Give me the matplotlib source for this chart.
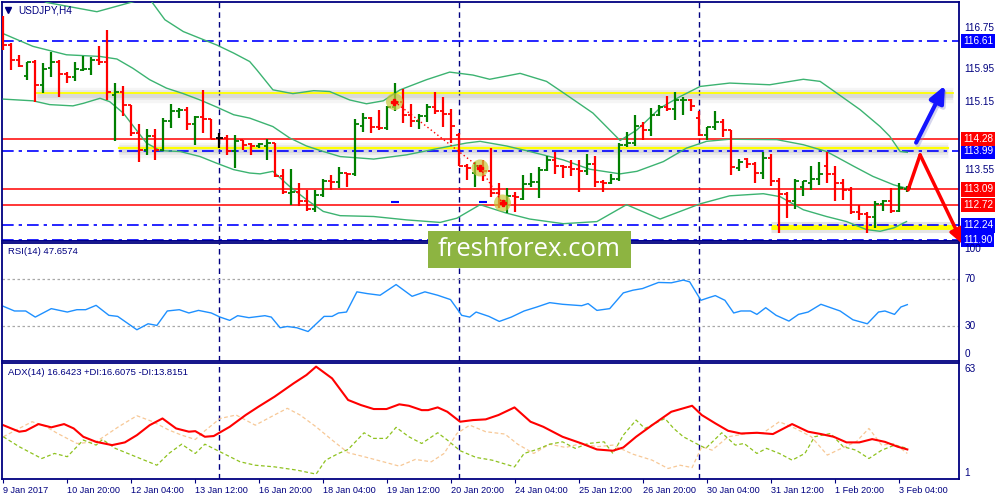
import matplotlib
matplotlib.use("Agg")
import matplotlib.pyplot as plt
import matplotlib.transforms as mtransforms
from matplotlib.patches import Rectangle
import numpy as np

plt.rcParams['font.family'] = ['Liberation Sans', 'DejaVu Sans']

# --- USDJPY H4 bars (bar index 0 = 9 Jan 2017 12:00) ---
opens = [
    116.63, 116.52, 116.16, 115.78, 116.10, 115.57, 115.96, 116.10, 115.83, 115.75,
    115.92, 115.94, 116.16, 116.12, 115.33, 115.41, 115.10, 114.42, 114.03, 114.35,
    114.03, 114.72, 114.96, 114.98, 114.65, 114.80, 114.76, 114.31, 114.31, 113.99,
    114.27, 114.17, 114.12, 114.12, 114.19, 113.41, 113.00, 113.04, 112.81, 112.63,
    112.96, 113.28, 113.26, 113.48, 113.46, 114.60, 114.78, 114.57, 114.54, 115.04,
    115.17, 114.86, 114.72, 114.82, 115.04, 114.94, 114.88, 114.38, 113.65, 113.48,
    113.64, 113.52, 113.01, 112.81, 112.94, 112.86, 113.23, 113.26, 113.56, 113.79,
    113.64, 113.62, 113.57, 113.52, 113.70, 113.26, 113.24, 113.34, 114.15, 114.20,
    114.60, 114.50, 114.86, 115.04, 114.99, 115.20, 115.21, 114.78, 114.38, 114.57,
    114.70, 114.49, 113.60, 113.81, 113.70, 113.48, 113.83, 113.28, 112.99, 112.81,
    113.16, 113.24, 113.34, 113.64, 113.46, 113.24, 113.07, 112.55, 112.52, 112.44,
    112.75, 112.81, 112.57, 113.10]
highs = [
    117.19, 116.55, 116.28, 116.12, 116.16, 116.08, 116.34, 116.16, 115.88, 116.12,
    116.24, 116.22, 116.48, 116.87, 115.62, 115.53, 115.10, 114.65, 114.52, 114.52,
    114.78, 115.12, 115.02, 115.04, 114.83, 115.45, 114.76, 114.42, 114.38, 114.38,
    114.27, 114.20, 114.20, 114.28, 114.19, 113.57, 113.57, 113.24, 113.08, 113.08,
    113.34, 113.44, 113.62, 113.49, 114.76, 114.90, 114.80, 114.98, 115.07, 115.62,
    115.47, 115.12, 114.88, 115.12, 115.39, 115.29, 114.99, 114.42, 113.70, 113.75,
    113.79, 114.07, 113.24, 113.12, 113.04, 113.44, 113.48, 113.62, 113.89, 113.97,
    113.68, 113.79, 113.79, 113.94, 113.89, 113.32, 113.46, 114.20, 114.46, 114.86,
    114.70, 115.02, 115.10, 115.31, 115.39, 115.28, 115.23, 114.96, 114.58, 114.94,
    114.76, 114.50, 113.81, 113.83, 113.75, 113.97, 113.94, 113.36, 113.02, 113.34,
    113.28, 113.65, 113.73, 113.97, 113.64, 113.34, 113.16, 112.73, 112.55, 112.81,
    112.85, 113.12, 113.24, 113.18]
lows = [
    116.40, 115.92, 116.00, 115.69, 115.17, 115.37, 115.75, 115.27, 115.61, 115.65,
    115.90, 115.81, 116.04, 115.21, 114.23, 114.83, 114.36, 113.73, 113.91, 113.79,
    113.99, 114.54, 114.78, 114.50, 114.15, 114.42, 114.28, 114.07, 113.91, 113.60,
    114.03, 113.91, 114.07, 113.79, 113.38, 112.99, 112.73, 112.69, 112.59, 112.55,
    112.92, 113.08, 113.12, 113.16, 113.41, 114.46, 114.42, 114.50, 114.50, 114.94,
    114.66, 114.58, 114.52, 114.70, 114.88, 114.58, 114.20, 113.64, 113.32, 113.16,
    113.28, 112.92, 112.65, 112.53, 112.55, 112.85, 113.16, 112.89, 113.52, 113.46,
    113.36, 113.41, 113.02, 113.44, 113.16, 113.04, 113.23, 113.30, 114.09, 114.11,
    114.27, 114.36, 114.82, 114.94, 114.74, 114.86, 114.96, 114.36, 114.27, 114.49,
    114.33, 113.44, 113.52, 113.60, 113.24, 113.34, 113.18, 112.07, 112.41, 112.63,
    112.94, 113.08, 113.20, 113.24, 112.81, 112.85, 112.52, 112.37, 112.06, 112.18,
    112.59, 112.53, 112.55, 113.02]
closes = [
    116.52, 116.16, 116.02, 116.10, 115.57, 115.94, 116.10, 115.83, 115.75, 115.94,
    115.94, 116.16, 116.12, 115.39, 115.41, 115.10, 114.42, 114.03, 114.35, 114.03,
    114.72, 114.96, 114.98, 114.65, 114.80, 114.76, 114.28, 114.31, 113.99, 114.23,
    114.15, 114.12, 114.17, 114.19, 113.41, 113.02, 113.04, 112.81, 112.63, 112.96,
    113.28, 113.26, 113.48, 113.46, 114.65, 114.78, 114.57, 114.54, 115.04, 115.17,
    114.86, 114.72, 114.82, 115.04, 114.94, 114.88, 114.60, 113.65, 113.60, 113.64,
    113.52, 113.01, 112.81, 112.94, 112.92, 113.23, 113.26, 113.56, 113.79, 113.64,
    113.62, 113.57, 113.52, 113.70, 113.26, 113.24, 113.34, 114.15, 114.20, 114.60,
    114.50, 114.86, 115.04, 114.99, 115.20, 115.21, 115.07, 114.38, 114.57, 114.70,
    114.50, 113.62, 113.75, 113.70, 113.48, 113.83, 113.28, 112.99, 112.81, 113.30,
    113.28, 113.34, 113.46, 113.46, 113.24, 113.07, 112.55, 112.52, 112.44, 112.75,
    112.81, 112.57, 113.12, 113.12]

# Bollinger bands (bar position, price)
upper_x = [0, 3, 5.4, 11.7, 16.5, 18.5, 20.2, 22.5, 24.6, 26.7, 28.8, 30.8, 31.7, 33.7, 36.2,
           38.8, 40.8, 43.3, 45.4, 47.5, 49.6, 52.9, 55.8, 58.7, 60.8, 64.6, 67.9, 70.4, 73.7,
           77.1, 79.2, 82.1, 84.6, 87.1, 90.8, 95.8, 100.0, 102.1, 104.2, 107.1, 109.6, 110.8,
           112.1, 113.0]
upper = [118.0, 117.75, 117.52, 117.30, 117.55, 117.55, 117.11, 116.83, 116.67, 116.51, 116.32,
         116.12, 115.92, 115.45, 115.36, 115.43, 115.41, 115.21, 115.12, 115.19, 115.45, 115.69,
         115.87, 115.80, 115.70, 115.84, 115.65, 115.33, 114.90, 114.25, 114.50, 115.02, 115.29,
         115.53, 115.61, 115.57, 115.70, 115.65, 115.37, 114.98, 114.58, 114.35, 113.99, 113.97]
middle_x = [0, 3.7, 7.9, 12.1, 14.2, 16.2, 18.3, 20.4, 22.5, 24.6, 26.7, 28.8, 30.8, 33.7, 35.8,
            37.9, 40.0, 42.1, 46.3, 50.4, 54.6, 57.9, 59.6, 62.9, 65.8, 70.0, 73.3, 77.1, 79.2,
            82.5, 85.4, 87.9, 90.8, 96.7, 100.0, 102.9, 106.3, 108.7, 111.3, 112.9]
middle = [116.78, 116.48, 116.28, 116.24, 116.18, 115.96, 115.69, 115.49, 115.36, 115.21, 115.04,
          114.86, 114.78, 114.58, 114.31, 114.12, 113.99, 113.87, 113.81, 113.91, 114.07, 114.19,
          114.23, 114.12, 113.99, 113.79, 113.57, 113.46, 113.52, 113.75, 114.07, 114.23, 114.28,
          114.27, 114.15, 113.99, 113.64, 113.40, 113.20, 113.12]
lower_x = [0, 3.7, 5.8, 8.7, 10.0, 12.1, 13.3, 15.0, 16.3, 17.9, 19.6, 22.1, 24.6, 26.7, 28.8,
           30.8, 32.1, 33.7, 35.8, 37.9, 40.0, 42.1, 46.3, 50.4, 54.6, 56.7, 59.6, 62.9, 65.8,
           70.0, 74.2, 77.9, 82.1, 84.6, 87.1, 90.8, 95.0, 97.1, 100.0, 102.9, 105.4, 107.9,
           109.6, 111.3, 112.9]
lower = [115.23, 115.19, 115.10, 115.07, 115.13, 115.25, 115.17, 114.90, 114.58, 114.19, 114.01,
         113.99, 113.87, 113.71, 113.56, 113.48, 113.46, 113.52, 113.16, 112.85, 112.57, 112.47,
         112.45, 112.37, 112.31, 112.41, 112.73, 112.53, 112.39, 112.28, 112.33, 112.73, 112.39,
         112.57, 112.75, 112.94, 112.99, 112.92, 112.61, 112.45, 112.33, 112.14, 112.10, 112.18,
         112.33]

# RSI(14)
rsi_x = [0, 1.4, 2.8, 4, 6, 8, 9.2, 10.3, 11.6, 13.2, 14.3, 16.7, 18.1, 19.2, 20.5, 22, 23.2,
         24.4, 26, 27.1, 28.3, 29.3, 30.7, 32.7, 33.5, 34.6, 35.5, 36.7, 38.1, 40.1, 41.1, 41.9,
         42.9, 44.2, 45.5, 47.1, 49.1, 51.1, 52.7, 54.3, 55.9, 57.3, 58.3, 59.1, 60.7, 62, 63.5,
         65.1, 66.7, 68.3, 69.9, 72.3, 73.1, 74.2, 75.8, 77.5, 78.7, 79.9, 81.9, 83.5, 85, 85.8,
         87.2, 88.2, 89, 90.2, 91.3, 92.2, 93.4, 94.2, 95.3, 96.6, 98.2, 99.4, 100.6, 102.2,
         104.6, 106.2, 108, 109.4, 110.2, 111.4, 112.2, 113]
rsi = [46.6, 42.6, 42.6, 37.4, 44.6, 41.7, 43.7, 43.7, 47.4, 38.9, 38.0, 26.6, 31.7, 30.3, 42.6,
       43.7, 40.9, 43.1, 40.9, 37.4, 34.6, 38.6, 36.9, 38.6, 37.4, 28.3, 29.4, 28.3, 25.1, 38.0,
       38.0, 40.9, 41.7, 58.9, 57.4, 56.0, 65.1, 55.1, 58.9, 56.0, 52.3, 38.9, 37.4, 41.7, 38.0,
       33.7, 37.4, 42.6, 46.0, 49.7, 48.3, 47.1, 48.9, 43.1, 44.6, 58.0, 60.3, 61.7, 66.9, 66.6,
       68.9, 67.4, 51.7, 54.0, 55.7, 51.7, 40.9, 42.6, 42.6, 39.7, 45.4, 38.9, 34.0, 39.7, 41.7,
       48.3, 42.6, 35.1, 31.7, 41.7, 42.6, 39.7, 46.0, 48.0]

# ADX(14) with +DI / -DI
adx_x = [0, 2, 2.8, 4.4, 6, 7.6, 8.8, 10, 11.6, 13.6, 15.2, 16.7, 18.3, 19.9, 21.6, 23.2, 24,
         25.2, 26.3, 28.3, 30.3, 31.9, 33.9, 36.3, 37.9, 39.1, 41.1, 43.1, 44.7, 46.3, 47.9,
         49.5, 50.7, 52.3, 53.1, 54.3, 55.5, 57.1, 58.7, 60.3, 61.9, 63.9, 65.9, 67.5, 69.9,
         72.3, 74.2, 76.2, 77.5, 79.1, 81.1, 83.5, 85, 86.1, 87.3, 89, 90.6, 92.2, 94.2, 96.2,
         98.6, 100.6, 102.2, 103.8, 105.4, 107, 108.6, 110.2, 111.8, 113]
adx = [29.7, 26.1, 26.6, 30.3, 28.5, 30.3, 27.9, 23.3, 20.5, 18.7, 20.2, 24.2, 29.7, 33.4, 27.9,
       26.1, 26.4, 23.3, 23.7, 28.8, 35.3, 39.9, 45.4, 52.8, 57.4, 62.0, 55.5, 43.6, 40.8, 38.6,
       38.6, 41.2, 40.4, 38.0, 38.0, 39.5, 37.1, 31.6, 32.5, 32.9, 35.3, 39.5, 31.6, 28.8, 23.3,
       19.6, 16.3, 15.6, 17.4, 23.3, 29.7, 37.1, 39.0, 40.4, 35.3, 30.7, 26.6, 25.1, 25.5, 24.8,
       30.3, 26.1, 24.8, 23.3, 20.2, 20.2, 22.0, 20.5, 17.8, 16.3]
pdi_x = [0, 2, 4.8, 6.4, 8, 10, 11.6, 12.4, 14, 16.4, 19.2, 20.7, 22.3, 24, 25.2, 27.1, 29.6,
         31.5, 33.9, 36.7, 39.1, 40.3, 41.9, 43.1, 45.1, 46.3, 47.9, 49.1, 50.7, 52.3, 54.3,
         55.5, 57.1, 59.1, 61.1, 63.9, 65.1, 66.7, 68.3, 69.9, 71.5, 73.1, 75.1, 76.2, 77.5,
         79.1, 80.2, 82.7, 83.8, 85, 86.6, 87.8, 89.8, 91.5, 92.6, 94.2, 95.4, 97, 98.6, 100.2,
         101.4, 103.4, 105, 106.6, 108.2, 109.8, 111.4, 113]
pdi = [23.3, 17.8, 11.3, 14.1, 12.3, 21.5, 18.7, 21.8, 16.9, 12.6, 7.6, 14.1, 19.2, 14.1, 19.2,
       15.0, 9.5, 7.6, 6.7, 4.9, 2.7, 10.4, 14.1, 16.3, 25.5, 22.4, 22.4, 28.5, 23.3, 19.6, 25.5,
       21.5, 15.6, 11.9, 10.4, 6.7, 14.1, 16.3, 19.2, 20.5, 16.9, 19.6, 20.5, 14.1, 24.2, 32.5,
       27.9, 33.4, 27.9, 23.3, 19.6, 16.9, 25.5, 18.7, 19.6, 14.1, 16.9, 14.1, 10.4, 14.1, 23.3,
       25.1, 17.8, 15.9, 11.3, 15.9, 18.7, 16.9]
mdi_x = [0, 1.2, 3.6, 5.2, 6.8, 9.2, 11.6, 14.4, 16.7, 18.7, 20.7, 22.3, 24, 25.2, 27.1, 29.1,
         31.5, 33.5, 35.5, 37.1, 39.1, 41.1, 43.1, 45.1, 47.5, 49.5, 51.5, 53.5, 55.1, 56.7,
         58.3, 60.3, 62.7, 64.3, 66.3, 68.3, 70.3, 72.3, 74.2, 76.2, 78.7, 81.1, 83.1, 84.6,
         86.1, 87.3, 88.6, 90.6, 93, 95, 97, 99, 101, 103, 105, 106.6, 108.2, 109.8, 111.4, 113]
mdi = [23.3, 26.1, 31.6, 29.2, 25.1, 19.6, 20.5, 28.8, 34.9, 31.6, 27.0, 24.2, 21.8, 26.6, 33.4,
       35.3, 29.7, 34.4, 39.0, 35.3, 28.8, 21.5, 14.5, 12.3, 9.5, 7.1, 10.8, 9.5, 14.1, 25.1,
       29.7, 26.1, 24.8, 19.2, 14.1, 19.2, 17.4, 19.6, 17.8, 18.7, 13.7, 10.4, 5.8, 7.6, 6.3,
       17.8, 15.9, 23.3, 25.1, 25.5, 31.6, 27.9, 23.3, 13.2, 17.4, 20.5, 27.9, 18.7, 19.6, 14.1]

tick_labels = ["9 Jan 2017", "10 Jan 20:00", "12 Jan 04:00", "13 Jan 12:00", "16 Jan 20:00",
               "18 Jan 04:00", "19 Jan 12:00", "20 Jan 20:00", "24 Jan 04:00", "25 Jan 12:00",
               "26 Jan 20:00", "30 Jan 04:00", "31 Jan 12:00", "1 Feb 20:00", "3 Feb 04:00"]
week_starts = [27, 57, 87]

# horizontal levels drawn on the chart
blue_levels = [116.61, 113.99, 112.24, 111.90]
red_levels = [114.28, 113.09, 112.72]
plain_price_ticks = [116.75, 115.95, 115.15, 113.55]

NAVY = '#000080'
GREEN = '#007f00'
RED = '#ff0000'
BLUE = '#0000ff'
X_MIN, X_MAX = -0.16, 119.46


def right_label(ax, y, text, face=None, va='center'):
    trans = mtransforms.blended_transform_factory(ax.transAxes, ax.transData)
    if face is None:
        ax.text(1.006, y, text, transform=trans, fontsize=7.2, color=NAVY, va=va, ha='left',
                clip_on=False)
    else:
        ax.text(1.004, y, text, transform=trans, fontsize=7.2, color='white', va=va, ha='left',
                clip_on=False, zorder=10,
                bbox=dict(boxstyle='square,pad=0.22', facecolor=face, edgecolor='none'))


def style_panel(ax):
    ax.set_xlim(X_MIN, X_MAX)
    for s in ax.spines.values():
        s.set_color(NAVY)
        s.set_linewidth(1.3)
    ax.set_xticks([])
    ax.set_yticks([])
    for w in week_starts:
        ax.axvline(w, color=NAVY, lw=1, ls=(0, (4, 3)), zorder=1)


def draw_price(ax):
    style_panel(ax)
    ax.set_ylim(111.87, 117.53)
    o, h, l, c = (np.array(v) for v in (opens, highs, lows, closes))
    idx = np.arange(len(o))
    cols = np.where(c > o, GREEN, np.where(c < o, RED, 'black'))

    # yellow zones with a soft grey shadow
    for x0, x1, y, lw in [(4.2, 118.7, 115.37, 1.3), (14.5, 118.1, 114.07, 1.6)]:
        for spread, alpha in [(11, 0.08), (7, 0.12), (3.5, 0.15)]:
            ax.plot([x0, x1], [y - 0.04, y - 0.04], color='#8a8a8a', lw=spread, alpha=alpha,
                    solid_capstyle='butt', zorder=1)
        ax.plot([x0, x1], [y, y], color='#ffff00', lw=lw, zorder=2)
    ax.plot([96.0, 119.0], [112.21, 112.21], color='#9a9a9a', lw=8, alpha=0.25,
            solid_capstyle='butt', zorder=1)
    ax.plot([96.0, 119.0], [112.21, 112.21], color='#ffff00', lw=3.5, solid_capstyle='butt', zorder=2)

    for y in blue_levels:
        ax.axhline(y, color=BLUE, lw=1.2, ls=(0, (7, 3, 2, 3)), zorder=2)
    ax.axhline(111.88, color=BLUE, lw=1.2, zorder=2)
    for y in red_levels:
        ax.axhline(y, color=RED, lw=1.1, zorder=2)

    ax.plot(upper_x, upper, color='#3cb371', lw=1, zorder=3)
    ax.plot(middle_x, middle, color='#3cb371', lw=1, zorder=3)
    ax.plot(lower_x, lower, color='#3cb371', lw=1, zorder=3)

    ax.vlines(idx, l, h, colors=cols, lw=1.6, zorder=4)
    ax.hlines(o, idx - 0.42, idx, colors=cols, lw=1.3, zorder=4)
    ax.hlines(c, idx, idx + 0.42, colors=cols, lw=1.3, zorder=4)

    # fractal marks
    fx, fy = [48.9, 59.6, 62.4], [115.17, 113.60, 112.77]
    ax.scatter(fx, fy, s=150, color='#c8c83a', alpha=0.7, edgecolors='none', zorder=5)
    ax.plot(fx, fy, color=RED, lw=1, ls=(0, (1, 2)), zorder=5)
    ax.plot(fx, fy, ls='none', marker='P', color=RED, ms=5, zorder=6)
    ax.plot([49, 60], [112.80, 112.80], ls='none', marker='_', color=BLUE, ms=6, mew=1.5, zorder=5)

    # scenario arrows
    ax.annotate('', xy=(117.9, 115.52), xytext=(114.3, 114.15),
                arrowprops=dict(arrowstyle='-|>,head_length=1.0,head_width=0.45',
                                color='#8888cc', lw=3.5, alpha=0.35, shrinkA=0, shrinkB=0),
                annotation_clip=False, zorder=7)
    ax.annotate('', xy=(117.7, 115.55), xytext=(114.1, 114.20),
                arrowprops=dict(arrowstyle='-|>,head_length=1.0,head_width=0.45',
                                color='#1414ff', lw=3, shrinkA=0, shrinkB=0),
                annotation_clip=False, zorder=8)
    ax.plot([113.1, 114.6], [113.08, 113.91], color=RED, lw=2.5, solid_capstyle='round', zorder=8)
    ax.annotate('', xy=(120.0, 111.78), xytext=(114.6, 113.91),
                arrowprops=dict(arrowstyle='-|>,head_length=0.9,head_width=0.4',
                                color=RED, lw=2.5, shrinkA=0, shrinkB=0),
                annotation_clip=False, zorder=8)

    for y in plain_price_ticks:
        if y == 116.75:
            # sits right on top of the 116.61 box, as in the terminal
            right_label(ax, 116.80, f"{y:.2f}", va='bottom')
        else:
            right_label(ax, y, f"{y:.2f}")
    for y in blue_levels:
        right_label(ax, y, f"{y:.2f}", face=BLUE)
    for y in red_levels:
        right_label(ax, y, f"{y:.2f}", face=RED)

    ax.plot([0.0065], [0.965], transform=ax.transAxes, marker='v', color=NAVY, ms=4.5)
    ax.text(0.017, 0.965, "USDJPY,H4", transform=ax.transAxes, fontsize=7.2, color=NAVY,
            va='center', ha='left')


def draw_rsi(ax):
    style_panel(ax)
    ax.set_ylim(0, 100.5)
    ax.axhline(70, color='#a8a8a8', lw=0.9, ls=(0, (2, 2)))
    ax.axhline(30, color='#a8a8a8', lw=0.9, ls=(0, (2, 2)))
    ax.plot(rsi_x, rsi, color='#1e90ff', lw=1)
    right_label(ax, 100, "100", va='top')
    right_label(ax, 70, "70")
    right_label(ax, 30, "30")
    right_label(ax, 1.5, "0", va='bottom')
    ax.text(0.0065, 0.925, "RSI(14) 47.6574", transform=ax.transAxes, fontsize=6.8, color=NAVY,
            va='center', ha='left')


def draw_adx(ax):
    style_panel(ax)
    ax.set_ylim(0, 64)
    ax.plot(mdi_x, mdi, color='#f7c896', lw=0.9, ls=(0, (3, 2)))
    ax.plot(pdi_x, pdi, color='#8fc21f', lw=0.9, ls=(0, (3, 2)))
    ax.plot(adx_x, adx, color=RED, lw=1.5)
    right_label(ax, 63.5, "63", va='top')
    right_label(ax, 0.8, "1", va='bottom')
    ax.text(0.0065, 0.922, "ADX(14) 16.6423 +DI:16.6075 -DI:13.8151", transform=ax.transAxes,
            fontsize=6.8, color=NAVY, va='center', ha='left')

    ax.set_xticks(np.arange(0, 8 * len(tick_labels), 8))
    ax.set_xticklabels(tick_labels)
    ax.tick_params(axis='x', colors=NAVY, labelcolor=NAVY, labelsize=6.6, length=3, pad=2)
    for lbl in ax.get_xticklabels():
        lbl.set_ha('left')


def main():
    fig = plt.figure(figsize=(10, 5), dpi=100)
    fig.patch.set_facecolor('white')
    ax_price = fig.add_axes([0.002, 0.518, 0.957, 0.478])
    ax_rsi = fig.add_axes([0.002, 0.278, 0.957, 0.236])
    ax_adx = fig.add_axes([0.002, 0.042, 0.957, 0.232])

    draw_price(ax_price)
    draw_rsi(ax_rsi)
    draw_adx(ax_adx)

    # watermark
    fig.patches.append(Rectangle((0.428, 0.464), 0.203, 0.074, transform=fig.transFigure,
                                 facecolor='#8db441', edgecolor='none', zorder=20))
    fig.text(0.5295, 0.502, "freshforex.com", fontsize=18.5, color='white', family='Open Sans',
             ha='center', va='center', zorder=21)

    fig.savefig('out.png', dpi=100)


if __name__ == "__main__":
    main()
